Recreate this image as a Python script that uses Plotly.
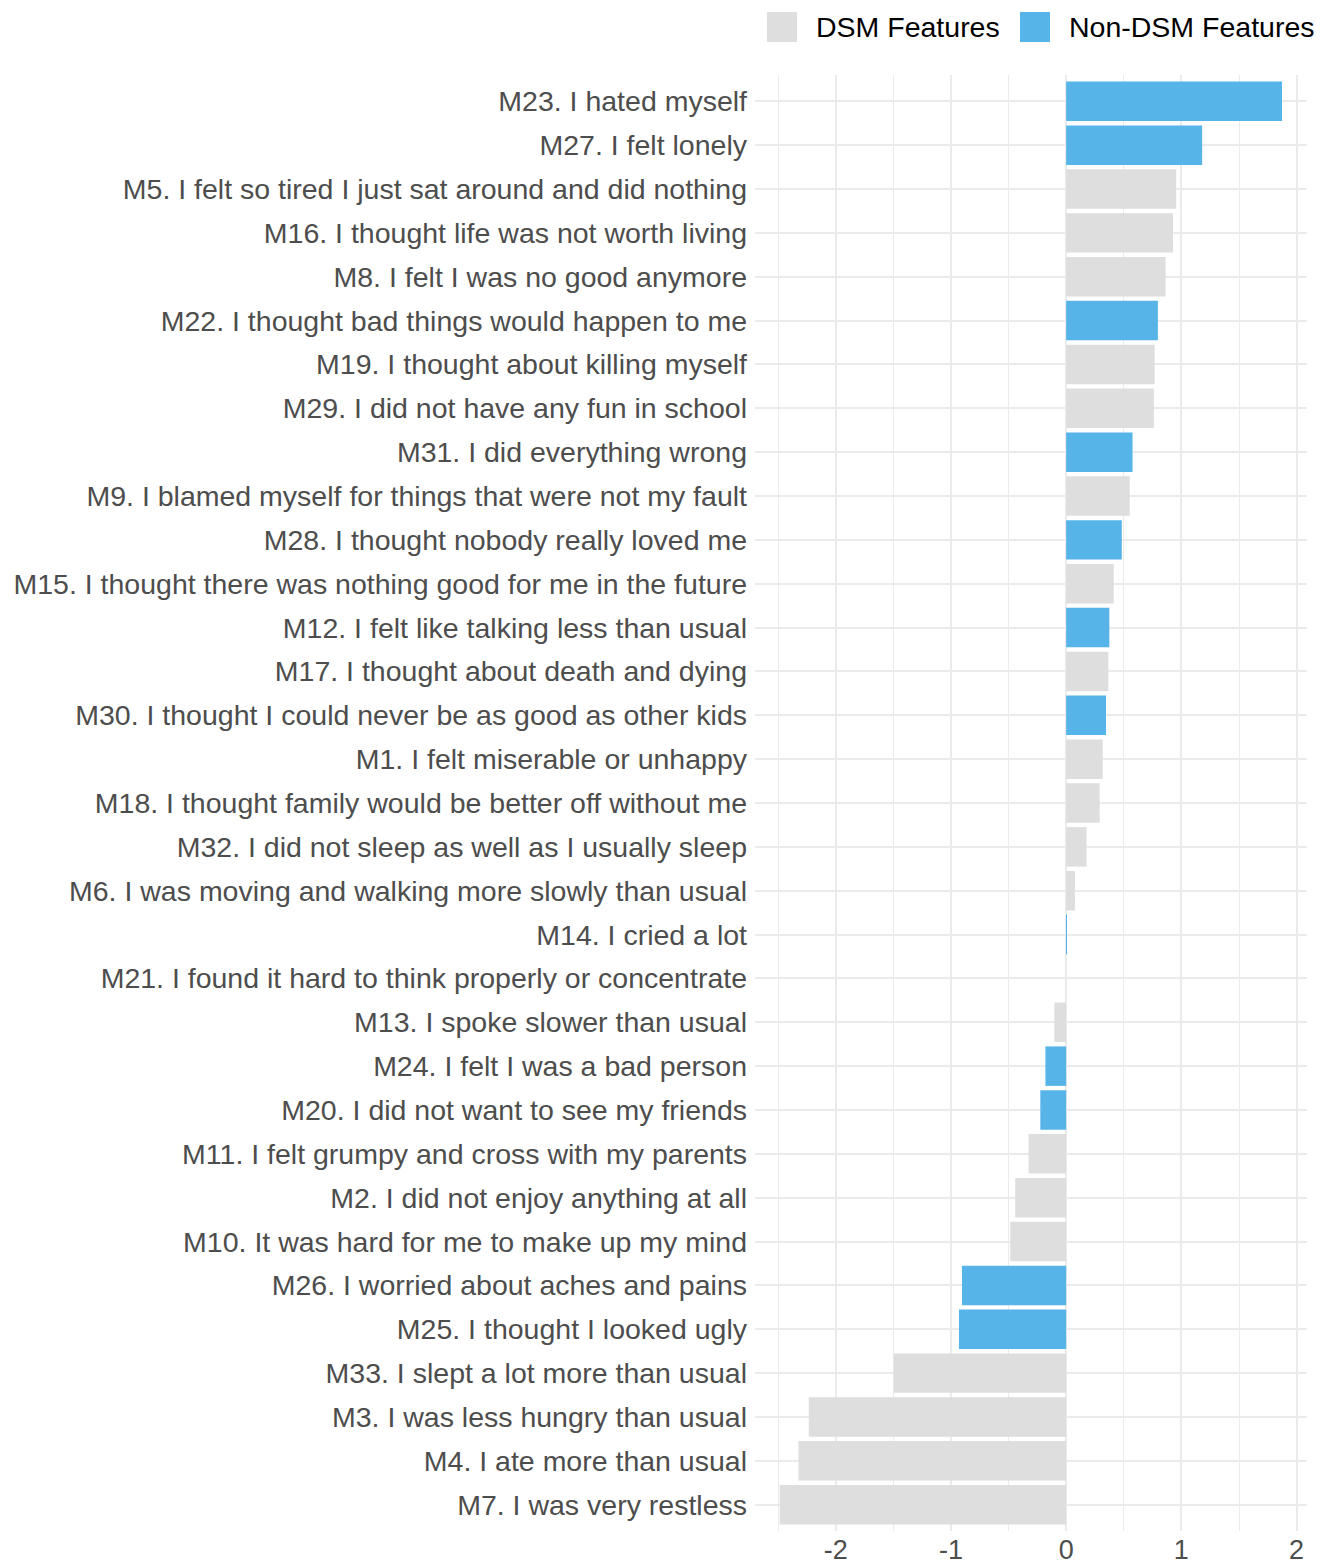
import plotly.graph_objects as go

labels = [
    "M23. I hated myself",
    "M27. I felt lonely",
    "M5. I felt so tired I just sat around and did nothing",
    "M16. I thought life was not worth living",
    "M8. I felt I was no good anymore",
    "M22. I thought bad things would happen to me",
    "M19. I thought about killing myself",
    "M29. I did not have any fun in school",
    "M31. I did everything wrong",
    "M9. I blamed myself for things that were not my fault",
    "M28. I thought nobody really loved me",
    "M15. I thought there was nothing good for me in the future",
    "M12. I felt like talking less than usual",
    "M17. I thought about death and dying",
    "M30. I thought I could never be as good as other kids",
    "M1. I felt miserable or unhappy",
    "M18. I thought family would be better off without me",
    "M32. I did not sleep as well as I usually sleep",
    "M6. I was moving and walking more slowly than usual",
    "M14. I cried a lot",
    "M21. I found it hard to think properly or concentrate",
    "M13. I spoke slower than usual",
    "M24. I felt I was a bad person",
    "M20. I did not want to see my friends",
    "M11. I felt grumpy and cross with my parents",
    "M2. I did not enjoy anything at all",
    "M10. It was hard for me to make up my mind",
    "M26. I worried about aches and pains",
    "M25. I thought I looked ugly",
    "M33. I slept a lot more than usual",
    "M3. I was less hungry than usual",
    "M4. I ate more than usual",
    "M7. I was very restless",
]
values = [1.873, 1.18, 0.955, 0.927, 0.863, 0.796, 0.768, 0.761, 0.576, 0.552,
          0.483, 0.413, 0.375, 0.366, 0.346, 0.317, 0.291, 0.177, 0.076, 0.005,
          0.0, -0.102, -0.180, -0.224, -0.326, -0.442, -0.485, -0.904, -0.930,
          -1.497, -2.233, -2.323, -2.485]
groups = ["Non-DSM", "Non-DSM", "DSM", "DSM", "DSM", "Non-DSM", "DSM", "DSM",
          "Non-DSM", "DSM", "Non-DSM", "DSM", "Non-DSM", "DSM", "Non-DSM", "DSM",
          "DSM", "DSM", "DSM", "Non-DSM", "DSM", "DSM", "Non-DSM", "Non-DSM",
          "DSM", "DSM", "DSM", "Non-DSM", "Non-DSM", "DSM", "DSM", "DSM", "DSM"]
x_ticks = [-2, -1, 0, 1, 2]
legend_names = ["DSM Features", "Non-DSM Features"]

GREY = "#DEDEDE"
BLUE = "#56B4E9"
FONT = "Liberation Sans, Arial, sans-serif"
FS = 28.5

# page has an 8px body margin; plot area should be at page x 755..1307, y 75..1531
OFF = 8
PL, PR, PT, PB = 755, 1307, 75, 1531
W, H = 1325 - OFF, 1565 - OFF

fig = go.Figure()
for key, color in [("DSM", GREY), ("Non-DSM", BLUE)]:
    ys = [l for l, g in zip(labels, groups) if g == key]
    xs = [v for v, g in zip(values, groups) if g == key]
    fig.add_trace(go.Bar(
        x=xs, y=ys, orientation="h", width=0.9,
        marker=dict(color=color, line=dict(width=0)),
        showlegend=False, hoverinfo="x+y",
    ))

fig.update_layout(
    width=W, height=H,
    barmode="overlay",
    plot_bgcolor="white", paper_bgcolor="white",
    margin=dict(l=PL - OFF, r=OFF + W - PR, t=PT - OFF, b=OFF + H - PB, autoexpand=False),
    font=dict(family=FONT, size=FS, color="#4D4D4D"),
)
fig.update_xaxes(
    range=[-2.70, 2.09], tickvals=x_ticks, ticktext=[str(t) for t in x_ticks],
    showgrid=True, gridcolor="#EBEBEB", gridwidth=1.6,
    minor=dict(dtick=0.5, tick0=0, showgrid=True, gridcolor="#EBEBEB", gridwidth=1),
    zeroline=False, showline=False, ticks="", ticklen=0, automargin=False,
    ticklabelstandoff=0,
    tickfont=dict(family=FONT, size=27, color="#4D4D4D"),
)
fig.update_yaxes(
    categoryorder="array", categoryarray=labels[::-1],
    range=[-0.6, len(labels) - 0.4],
    showgrid=True, gridcolor="#EBEBEB", gridwidth=1.6,
    zeroline=False, showline=False, ticks="", ticklen=0, automargin=False,
    ticklabelstandoff=7,
    tickfont=dict(family=FONT, size=FS, color="#4D4D4D"),
)

pw, ph = PR - PL, PB - PT
def px(x):
    return (x - PL) / pw
def py(y):
    return (PB - y) / ph

legend_items = [(legend_names[0], GREY, 767, 816), (legend_names[1], BLUE, 1020, 1069)]
for name, color, sx, tx in legend_items:
    fig.add_shape(type="rect", xref="paper", yref="paper",
                  x0=px(sx), x1=px(sx + 30), y0=py(42), y1=py(12),
                  fillcolor=color, line=dict(width=0))
    fig.add_annotation(xref="paper", yref="paper", x=px(tx), y=py(27),
                       text=name, showarrow=False, xanchor="left", yanchor="middle",
                       xshift=-2,
                       font=dict(family=FONT, size=FS, color="black"))

fig.write_html("out.html")
